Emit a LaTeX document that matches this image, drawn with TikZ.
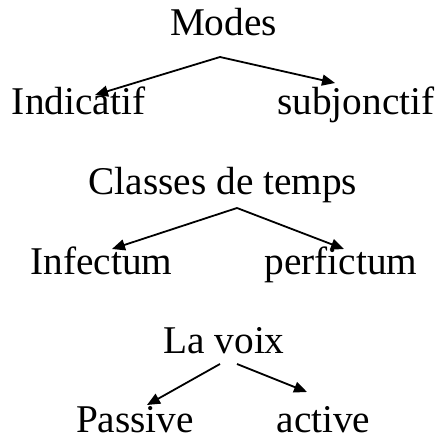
\documentclass[tikz,border=0pt]{standalone}
\usepackage{fontspec}
\setmainfont{Liberation Serif}
\usetikzlibrary{arrows.meta,calc}
\begin{document}
\begin{tikzpicture}[x=1pt,y=1pt,
  lbl/.style={inner sep=0pt,anchor=base,font=\fontsize{39.3}{40}\selectfont},
  conn/.style={black,line width=1.8pt,-{Triangle[length=13pt,width=11pt]}}]
\useasboundingbox (0,0) rectangle (439,440);
\node[lbl] (modes) at (223.5,404) {Modes};
\node[lbl] (ind) at (78.5,325) {Indicatif};
\node[lbl] (sub) at (356,325) {subjonctif};
\node[lbl] (cls) at (223,245) {Classes de temps};
\node[lbl] (inf) at (101.5,165) {Infectum};
\node[lbl] (perf) at (341,165) {perfictum};
\node[lbl] (voix) at (224,86) {La voix};
\node[lbl] (pas) at (135,7) {Passive};
\node[lbl] (act) at (323.5,7) {active};
\draw[conn] ($(modes.base)+(-3.5,-21)$) -- ($(ind.base)+(16.5,20)$);
\draw[conn] ($(modes.base)+(-3.5,-21)$) -- ($(sub.base)+(-21,32)$);
\draw[conn] ($(cls.base)+(14,-13)$) -- ($(inf.base)+(10.5,26)$);
\draw[conn] ($(cls.base)+(14,-13)$) -- ($(perf.base)+(3,26)$);
\draw[conn] ($(voix.base)+(-4,-10)$) -- ($(pas.base)+(12,28)$);
\draw[conn] ($(voix.base)+(13,-10)$) -- ($(act.base)+(-16.5,41)$);
\end{tikzpicture}
\end{document}
